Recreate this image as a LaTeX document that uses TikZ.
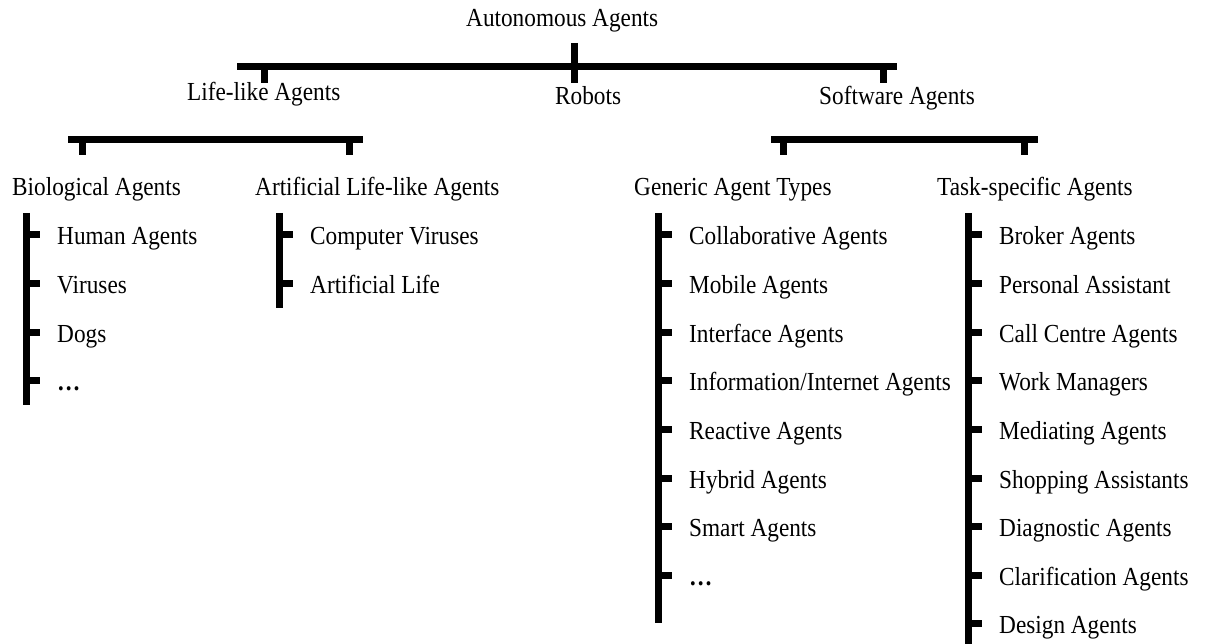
\documentclass[tikz,border=0pt]{standalone}
\usepackage{fontspec}
\setmainfont{Liberation Serif}[FakeStretch=0.895]
\begin{document}
\begin{tikzpicture}[x=1pt,y=-1pt,
  txt/.style={anchor=base west,inner sep=0pt,font=\fontsize{26}{31}\selectfont},
  bar/.style={line width=7pt,line cap=butt},
  tick/.style={line width=7pt,line cap=butt},
]
\useasboundingbox (0,0) rectangle (1205,644);

% ---- root level ----
\node[txt] (root) at (466,27) {Autonomous Agents};
\coordinate (rootTop) at (574,43);
\coordinate (rootL) at (237,66.5);
\coordinate (rootR) at (897,66.5);
\coordinate (rootBot) at (574,83);
\draw[bar] (rootL) -- (rootR);
\draw[tick] (rootTop) -- (rootBot);

\node[txt] (life) at (187,101) {Life-like Agents};
\node[txt] (robots) at (555,105) {Robots};
\node[txt] (soft) at (819,105) {Software Agents};
\coordinate (lifeUp) at (264.5,66.5);
\coordinate (lifeT) at (264.5,83);
\coordinate (softUp) at (883,66.5);
\coordinate (softT) at (883,83);
\draw[tick] (lifeUp) -- (lifeT);
\draw[tick] (softUp) -- (softT);

% ---- life-like branch ----
\coordinate (lbL) at (68,140);
\coordinate (lbR) at (363,140);
\draw[bar] (lbL) -- (lbR);
\coordinate (bioUp) at (82,140);   \coordinate (bioT) at (82,155);
\coordinate (artUp) at (349,140);  \coordinate (artT) at (349,155);
\draw[tick] (bioUp) -- (bioT);
\draw[tick] (artUp) -- (artT);
\node[txt] (bio) at (12,196) {Biological Agents};
\node[txt] (art) at (255,196) {Artificial Life-like Agents};

% ---- software branch ----
\coordinate (sbL) at (771,140);
\coordinate (sbR) at (1038,140);
\draw[bar] (sbL) -- (sbR);
\coordinate (genUp) at (783,140);  \coordinate (genT) at (783,155);
\coordinate (taskUp) at (1024,140); \coordinate (taskT) at (1024,155);
\draw[tick] (genUp) -- (genT);
\draw[tick] (taskUp) -- (taskT);
\node[txt] (gen) at (634,196) {Generic Agent Types};
\node[txt] (task) at (937,196) {Task-specific Agents};

% ---- lists: spine, stubs and item labels ----
\def\gap{48.6}
% biological
\coordinate (bioS) at (26.5,213); \coordinate (bioE) at (26.5,405);
\draw[tick] (bioS) -- (bioE);
\foreach \t [count=\i from 0] in {Human Agents,Viruses,Dogs,\textbf{…}}{
  \coordinate (bioK\i) at (26.5,235+\i*\gap);
  \coordinate (bioJ\i) at (40,235+\i*\gap);
  \draw[tick] (bioK\i) -- (bioJ\i);
  \node[txt] (bioI\i) at (57,245+\i*\gap) {\t};
}
% artificial life-like
\coordinate (artS) at (279,213); \coordinate (artE) at (279,308);
\draw[tick] (artS) -- (artE);
\foreach \t [count=\i from 0] in {Computer Viruses,Artificial Life}{
  \coordinate (artK\i) at (279,235+\i*\gap);
  \coordinate (artJ\i) at (292.5,235+\i*\gap);
  \draw[tick] (artK\i) -- (artJ\i);
  \node[txt] (artI\i) at (310,245+\i*\gap) {\t};
}
% generic agent types
\coordinate (genS) at (658,213); \coordinate (genE) at (658,623);
\draw[tick] (genS) -- (genE);
\foreach \t [count=\i from 0] in {Collaborative Agents,Mobile Agents,Interface Agents,Information/Internet Agents,Reactive Agents,Hybrid Agents,Smart Agents,\textbf{…}}{
  \coordinate (genK\i) at (658,235+\i*\gap);
  \coordinate (genJ\i) at (672,235+\i*\gap);
  \draw[tick] (genK\i) -- (genJ\i);
  \node[txt] (genI\i) at (689,245+\i*\gap) {\t};
}
% task-specific agents
\coordinate (taskS) at (968,213); \coordinate (taskE) at (968,650);
\draw[tick] (taskS) -- (taskE);
\foreach \t [count=\i from 0] in {Broker Agents,Personal Assistant,Call Centre Agents,Work Managers,Mediating Agents,Shopping Assistants,Diagnostic Agents,Clarification Agents,Design Agents}{
  \coordinate (taskK\i) at (968,235+\i*\gap);
  \coordinate (taskJ\i) at (982,235+\i*\gap);
  \draw[tick] (taskK\i) -- (taskJ\i);
  \node[txt] (taskI\i) at (999,245+\i*\gap) {\t};
}
\end{tikzpicture}
\end{document}
